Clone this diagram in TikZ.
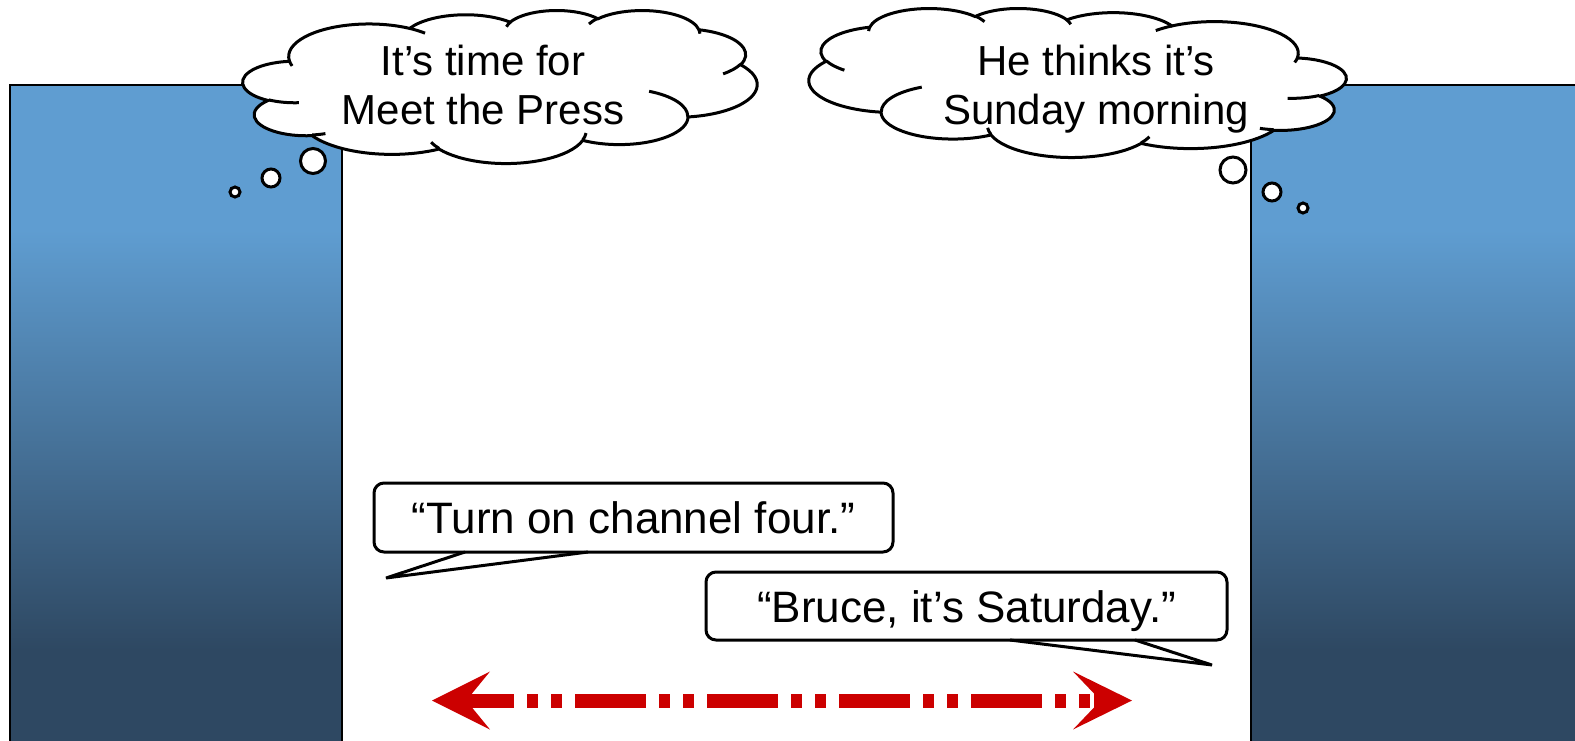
\documentclass[tikz,border=0pt]{standalone}
\usepackage{fontspec}
\setmainfont{Liberation Sans}
\definecolor{ptop}{HTML}{5F9DD1}
\definecolor{pbot}{HTML}{2E4862}
\definecolor{arrred}{HTML}{CC0000}
\pgfdeclareverticalshading{panelshade}{100bp}{color(0bp)=(pbot); color(32.5bp)=(pbot); color(64.1bp)=(ptop); color(100bp)=(ptop)}
\tikzset{
  panel/.style={draw=black, line width=2.5pt, shading=panelshade},
  cloudline/.style={draw=black, line width=3pt},
  cloudtext/.style={font=\fontsize{42}{49}\selectfont, align=center, inner sep=0pt},
  puff/.style={circle, draw=black, fill=white, line width=3pt, inner sep=0pt},
  speech/.style={draw=black, fill=white, line width=3pt, rounded corners=10pt, font=\fontsize{44}{50}\selectfont, text height=32pt, text depth=0pt, inner sep=0pt},
  innerstroke/.style={draw=black, line width=3pt},
  arrowhead/.style={fill=arrred, draw=none},
  shaft/.style={draw=arrred, line width=14pt, dash pattern=on 71pt off 13pt on 11pt off 13pt on 11pt off 13pt, dash phase=29pt}
}
% cloud outline in a 4320 x 4320 frame (y downwards), visual angles converted to parametric
\newcommand\cloudshape{%
  \path[fill=white] (390,1437)
    \foreach \w/\h/\s/\d in {675.3/919.0/-190.4875/123.7805, 533.3/726.7/-144.1024/89.9452,
      436.5/594.5/-145.8079/99.7230, 485.7/659.5/-130.9861/117.2417, 533.3/727.3/-78.7089/109.0269,
      677.5/922.0/-46.2673/130.2690, 578.5/786.7/0.6250/114.0333, 675.2/921.5/22.4516/115.1726,
      772.0/1054.3/66.2426/75.7110, 436.0/591.8/-274.9421/146.7356, 434.5/594.5/-246.8285/152.5189}
    { arc[start angle={atan2(\w*sin(\s),\h*cos(\s))},
          delta angle={mod(atan2(\w*sin(\s+\d),\h*cos(\s+\d))-atan2(\w*sin(\s),\h*cos(\s))+720,360)},
          x radius=\w, y radius=\h] } -- cycle;
  \path[cloudline] (390,1437)
    \foreach \w/\h/\s/\d in {675.3/919.0/-190.4875/123.7805, 533.3/726.7/-144.1024/89.9452,
      436.5/594.5/-145.8079/99.7230, 485.7/659.5/-130.9861/117.2417, 533.3/727.3/-78.7089/109.0269,
      677.5/922.0/-46.2673/130.2690, 578.5/786.7/0.6250/114.0333, 675.2/921.5/22.4516/115.1726,
      772.0/1054.3/66.2426/75.7110, 436.0/591.8/-274.9421/146.7356, 434.5/594.5/-246.8285/152.5189}
    { arc[start angle={atan2(\w*sin(\s),\h*cos(\s))},
          delta angle={mod(atan2(\w*sin(\s+\d),\h*cos(\s+\d))-atan2(\w*sin(\s),\h*cos(\s))+720,360)},
          x radius=\w, y radius=\h] } -- cycle;
  \path[cloudline]
    \foreach \px/\py/\w/\h/\s/\d in {469.3/2617.7/434.5/594.5/86.7420/26.4295,
      692.8/3489.9/436.0/591.8/73.6105/11.4475, 1647.8/3909.0/675.2/921.5/137.6242/14.0811,
      2882.7/3475.1/675.2/921.5/6.4533/15.9984, 3412.9/2295.4/578.5/786.7/-70.2924/70.9174,
      4179.8/1535.4/533.3/727.3/30.3180/27.7515, 3832.4/542.6/485.7/659.5/-13.7443/14.8589,
      2907.8/395.2/485.7/659.5/-149.1815/18.1954, 2214.1/472.0/436.5/594.5/-163.4943/17.6864,
      1400.0/519.2/675.3/919.0/-66.7070/12.3194, 412.7/1578.9/675.3/919.0/157.6544/11.8582}
    { (\px,\py) arc[start angle={atan2(\w*sin(\s),\h*cos(\s))},
          delta angle={mod(atan2(\w*sin(\s+\d),\h*cos(\s+\d))-atan2(\w*sin(\s),\h*cos(\s))+720,360)},
          x radius=\w, y radius=\h] };
}
\begin{document}
\begin{tikzpicture}[x=1pt,y=-1pt]
\useasboundingbox (0,0) rectangle (1575,740);
\fill[white] (0,0) rectangle (1575,740);
% side panels
\path[panel] (10,85) rectangle (342,750);
\path[panel] (1251,85) rectangle (1590,750);

% left thought cloud (frame 243..757 x 10..163)
\begin{scope}[shift={(243,10)}, x=1pt, y=1pt, xscale=0.118981, yscale=-0.0354167]
  \cloudshape
  \coordinate (cloudL) at (2160,2160);
\end{scope}
\node[cloudtext] (textL) at (483,85) {It’s time for\\Meet the Press};
\node[puff, minimum size=25pt] (pL1) at (313,161) {};
\node[puff, minimum size=18pt] (pL2) at (271,178) {};
\node[puff, minimum size=10pt] (pL3) at (235,192) {};

% right thought cloud, mirrored (frame 809..1346 x 8..157)
\begin{scope}[shift={(1346,8)}, x=1pt, y=1pt, xscale=-0.124306, yscale=-0.0344907]
  \cloudshape
  \coordinate (cloudR) at (2160,2160);
\end{scope}
\node[cloudtext] (textR) at (1096,89) {He thinks it’s\\Sunday morning};
\node[puff, minimum size=26pt] (pR1) at (1233,170) {};
\node[puff, minimum size=18pt] (pR2) at (1272,192) {};
\node[puff, minimum size=10pt] (pR3) at (1303,208) {};

% speech bubble 1
\node[speech, minimum width=519pt, minimum height=69pt] (sp1) at (633.5,517.5) {“Turn on channel four.”};
\coordinate (t1a) at (465,552);
\coordinate (t1b) at (588,552);
\coordinate (t1tip) at (386,578);
\fill[white] ([yshift=-2.5pt]t1a) -- (t1tip) -- ([yshift=-2.5pt]t1b) -- cycle;
\draw[innerstroke, line join=miter] (t1a) -- (t1tip) -- (t1b);

% speech bubble 2
\node[speech, minimum width=521pt, minimum height=68pt] (sp2) at (966.5,606) {“Bruce, it’s Saturday.”};
\coordinate (t2a) at (1010,640);
\coordinate (t2b) at (1135,640);
\coordinate (t2tip) at (1212,665);
\fill[white] ([yshift=-2.5pt]t2a) -- (t2tip) -- ([yshift=-2.5pt]t2b) -- cycle;
\draw[innerstroke, line join=miter] (t2a) -- (t2tip) -- (t2b);

% double arrow
\coordinate (aL) at (432,700.5);
\coordinate (aR) at (1132,700.5);
\coordinate (sL) at (472,700.5);
\coordinate (sR) at (1094,700.5);
\draw[shaft] (sL) -- (sR);
\fill[arrowhead] (aL) -- ++(58,-29) -- ++(-18,22) -- ++(0,14) -- ++(18,22) -- cycle;
\fill[arrowhead] (aR) -- ++(-59,-29) -- ++(21,22) -- ++(0,14) -- ++(-21,22) -- cycle;
\end{tikzpicture}
\end{document}
